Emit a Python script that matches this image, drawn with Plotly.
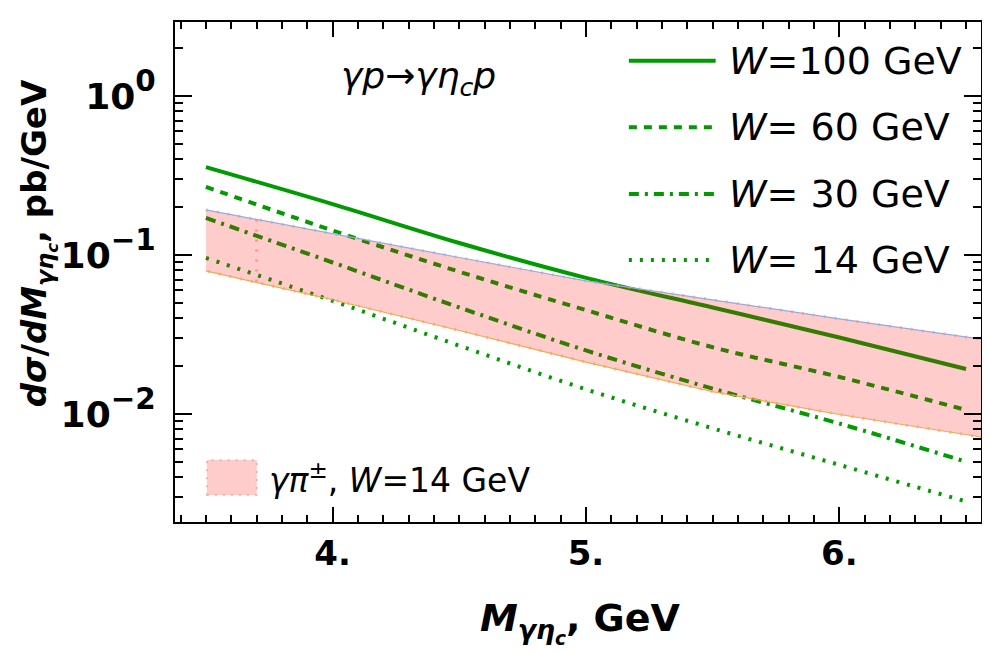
import numpy as np
import plotly.graph_objects as go

# ---- data ----
M_GRID = [3.5, 4.0, 4.5, 5.0, 5.5, 6.0, 6.5]
W100 = [0.357, 0.209, 0.119, 0.0718, 0.0467, 0.0303, 0.0192]
W60 = [0.268, 0.1426, 0.0785, 0.0450, 0.0263, 0.0171, 0.0106]
W30 = [0.171, 0.0897, 0.0468, 0.0251, 0.01445, 0.00871, 0.00501]
W14 = [0.0958, 0.0515, 0.0269, 0.0143, 0.00813, 0.00479, 0.00282]

BAND_X = [3.5, 4.0, 4.5, 5.0, 5.5, 6.0, 6.6]
BAND_UP = [0.192, 0.1355, 0.0964, 0.0687, 0.0520, 0.0397, 0.0289]
BAND_LO = [0.0794, 0.0523, 0.0335, 0.0212, 0.0138, 0.00993, 0.0070]
BAND_SEAM_X = [3.7]

LEGEND_LABELS = ["<i>W</i>=100 GeV", "<i>W</i>= 60 GeV", "<i>W</i>= 30 GeV", "<i>W</i>= 14 GeV"]
BAND_LABEL = "<i>γπ</i><sup>±</sup>, <i>W</i>=14 GeV"
X_TICKS = [4, 5, 6]
X_TICKTEXT = ["<b>4.</b>", "<b>5.</b>", "<b>6.</b>"]
Y_TICKS = [1, 0.1, 0.01]
Y_EXPONENTS = ["0", "−1", "−2"]
Y_TICKTEXT = ["<b>10<span style='font-size:42px'><sup>%s</sup></span></b>" % e for e in Y_EXPONENTS]

GREEN = "rgb(0,155,0)"
BAND_FILL = "rgba(255,0,0,0.2)"
FONT = "DejaVu Sans"

series = [
    (W100, "solid"),
    (W60, "8px,7px"),
    (W30, "10px,6px,3px,6px"),
    (W14, "3px,8px"),
]

fig = go.Figure()
for vals, dash in series:
    fig.add_trace(go.Scatter(x=M_GRID, y=vals, mode="lines", line_shape="spline",
                             line=dict(color=GREEN, width=4, dash=dash),
                             showlegend=False, hoverinfo="skip"))

# band (drawn on top, semi-transparent)
fig.add_trace(go.Scatter(x=BAND_X + BAND_X[::-1], y=BAND_UP + BAND_LO[::-1],
                         fill="toself", fillcolor=BAND_FILL, mode="lines",
                         line=dict(color="rgba(255,140,140,0.6)", width=3, dash="2px,9px"),
                         showlegend=False, hoverinfo="skip"))
fig.add_trace(go.Scatter(x=BAND_X, y=BAND_UP, mode="lines",
                         line=dict(color="rgb(150,170,225)", width=1.2),
                         showlegend=False, hoverinfo="skip"))
fig.add_trace(go.Scatter(x=BAND_X, y=BAND_LO, mode="lines",
                         line=dict(color="rgb(240,170,70)", width=1.2),
                         showlegend=False, hoverinfo="skip"))
seam_up = [10 ** np.interp(s, BAND_X, np.log10(BAND_UP)) for s in BAND_SEAM_X]
seam_lo = [10 ** np.interp(s, BAND_X, np.log10(BAND_LO)) for s in BAND_SEAM_X]
for s, u, l in zip(BAND_SEAM_X, seam_up, seam_lo):
    fig.add_trace(go.Scatter(x=[s, s], y=[u, l], mode="lines",
                             line=dict(color="rgba(255,130,130,0.8)", width=3, dash="2px,8px"),
                             showlegend=False, hoverinfo="skip"))

# ---- page geometry (browser body margin of 8px is compensated) ----
OFF = 8
PX0, PW, PY0, PH = 175, 808, 22, 500
def px(x):
    return (x - PX0) / PW
def py(y):
    return (PY0 + PH - y) / PH

leg_y = [60.7, 127.3, 194, 260]
shapes = []
annotations = []
for (vals, dash), lab, yy in zip(series, LEGEND_LABELS, leg_y):
    shapes.append(dict(type="line", xref="paper", yref="paper",
                       x0=px(630), x1=px(717), y0=py(yy), y1=py(yy),
                       line=dict(color=GREEN, width=4, dash=dash)))
    annotations.append(dict(x=px(728), y=py(yy), xref="paper", yref="paper",
                            text=lab, showarrow=False, xanchor="left", yanchor="middle",
                            font=dict(family=FONT, size=38, color="black")))

shapes.append(dict(type="rect", xref="paper", yref="paper",
                   x0=px(207), x1=px(257), y0=py(495), y1=py(460),
                   fillcolor=BAND_FILL, line=dict(color="rgba(255,140,140,0.6)", width=2, dash="2px,6px")))
annotations.append(dict(x=px(267), y=py(478), xref="paper", yref="paper",
                        text=BAND_LABEL, showarrow=False, xanchor="left", yanchor="middle",
                        font=dict(family=FONT, size=33, color="black")))

annotations.append(dict(x=px(419), y=py(78), xref="paper", yref="paper",
                        text="<i>γp→γη<sub>c</sub>p</i>", showarrow=False,
                        xanchor="center", yanchor="middle",
                        font=dict(family=FONT, size=36, color="black")))

annotations.append(dict(x=px(582), y=py(622), xref="paper", yref="paper",
                        text="<b><i>M</i><sub><i>γη<sub>c</sub></i></sub>, GeV</b>",
                        showarrow=False, xanchor="center", yanchor="middle",
                        font=dict(family=FONT, size=38, color="black")))
annotations.append(dict(x=px(38), y=py(243), xref="paper", yref="paper",
                        text="<b><i>dσ</i>/<i>dM</i><sub><i>γη<sub>c</sub></i></sub>, pb/GeV</b>",
                        showarrow=False, xanchor="center", yanchor="middle", textangle=-90,
                        font=dict(family=FONT, size=34, color="black")))

minor_y = [m * 10.0 ** k for k in range(-3, 1) for m in range(2, 10)]

W_FIG, H_FIG = 990 - OFF, 654 - OFF
fig.update_layout(
    width=W_FIG, height=H_FIG,
    margin=dict(l=PX0 - OFF, r=W_FIG - (PX0 + PW - OFF), t=PY0 - OFF,
                b=H_FIG - (PY0 + PH - OFF), pad=0),
    paper_bgcolor="white", plot_bgcolor="white",
    shapes=shapes, annotations=annotations,
    showlegend=False,
    xaxis=dict(range=[3.378, 6.559], showgrid=False, zeroline=False,
               showline=True, linecolor="black", linewidth=2, mirror="allticks",
               ticks="inside", ticklen=15, tickwidth=2, tickcolor="black",
               tickvals=X_TICKS, ticktext=X_TICKTEXT, ticklabelstandoff=0,
               tickfont=dict(family=FONT, size=34, color="black"),
               minor=dict(ticks="inside", ticklen=7, tickwidth=1.5, tickcolor="black", dtick=0.1)),
    yaxis=dict(type="log", range=[-2.679, 0.465], showgrid=False, zeroline=False,
               showline=True, linecolor="black", linewidth=2, mirror="allticks",
               ticks="inside", ticklen=17, tickwidth=2, tickcolor="black",
               tickvals=Y_TICKS, ticktext=Y_TICKTEXT, ticklabelstandoff=10,
               tickfont=dict(family=FONT, size=36, color="black"),
               minor=dict(ticks="inside", ticklen=8, tickwidth=1.5, tickcolor="black",
                          tickvals=minor_y)),
)

fig.write_html("out.html")
